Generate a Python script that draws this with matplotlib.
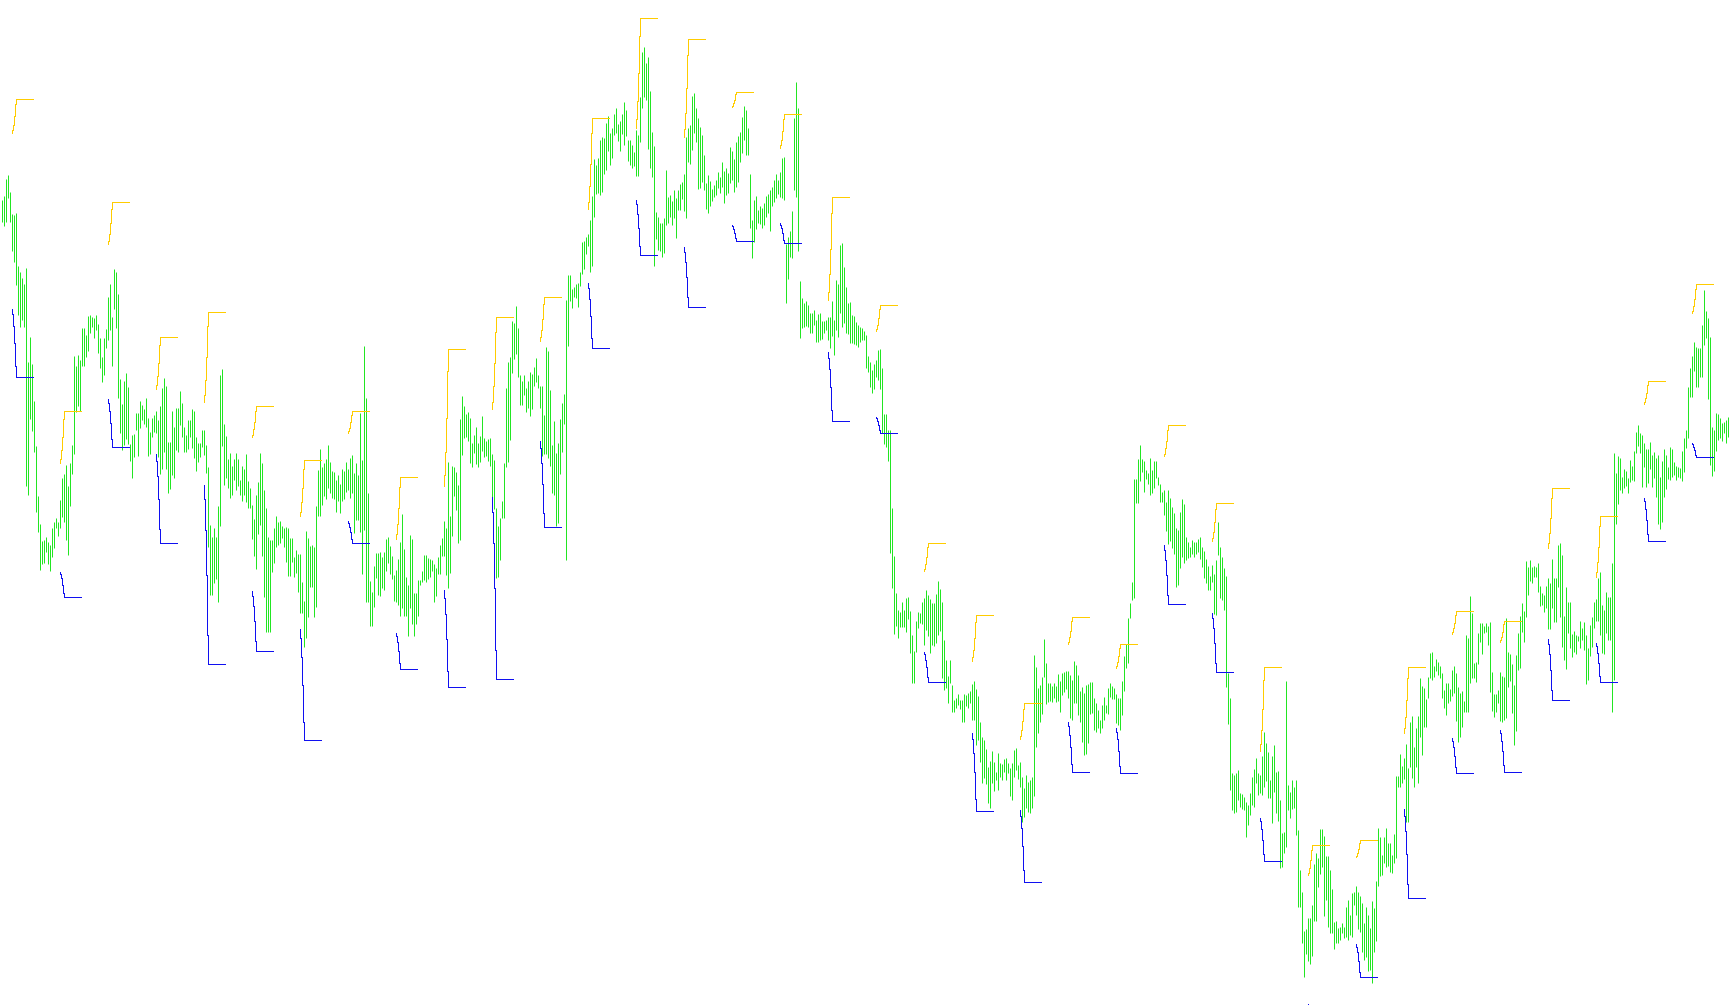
import matplotlib
matplotlib.use("Agg")
import matplotlib.pyplot as plt

# ---- bar data (high / low per bar) ----
high = [
805,809,826,830,813,791,790,792,739,733, 727,721,737,643,668,641,604,559,509,481,
464,465,468,463,460,477,483,487,483,505, 527,531,540,519,542,560,649,639,650,645,
677,677,670,689,690,688,687,690,681,667, 648,667,676,708,721,688,736,733,711,626,
601,624,632,618,561,570,571,592,592,604, 600,596,607,587,573,587,590,594,585,599,
617,627,619,563,563,594,578,597,597,614, 602,578,570,585,585,596,594,568,562,562,
575,575,560,538,480,468,477,468,
499,630,636,581,569,546,552,539,546,552, 546,525,539,536,551,524,517,500,486,510,
523,552,542,515,497,468,465,465,477,489, 483,484,479,477,478,477,467,467,448,455,
451,451,423,404,474,467,459,460,458,499, 535,556,538,542,546,560,543,534,533,525,
530,521,536,534,543,536,547,550,532,542, 530,592,545,659,607,512,424,413,439,452,
452,453,448,453,466,468,459,449,430,435, 446,463,491,456,428,420,470,466,412,412,
425,425,434,450,450,447,446,445,
441,437,448,460,467,484,477,543,489,539, 538,533,520,586,609,599,591,593,587,562,
570,578,562,569,589,567,564,566,567,551, 545,497,479,487,504,542,617,643,648,684,
682,699,677,630,624,630,617,624,633,631, 638,647,630,619,619,590,658,654,615,560,
584,552,562,586,602,611,705,730,730,716, 718,721,722,733,763,764,768,771,785,809,
846,840,847,865,868,867,882,889,872,877, 891,897,881,884,891,903,895,865,865,860,
853,875,870,908,953,958,942,948,
914,873,859,793,788,782,782,787,835,808, 810,804,815,807,815,821,823,831,868,877,
880,909,912,897,887,878,870,850,822,830, 824,816,820,825,833,828,843,834,837,832,
858,854,846,863,869,873,888,899,895,877, 831,785,805,809,795,799,797,802,809,811,
815,818,825,831,825,833,847,848,761,768, 774,794,887,923,897,724,707,702,704,700,
692,692,695,685,691,692,684,684,685,688, 688,704,685,725,721,760,762,738,718,702,
703,690,689,683,680,678,677,674,
670,649,643,635,641,645,655,656,637,591, 591,575,575,497,449,412,395,393,403,395,
407,408,394,370,354,384,393,392,403,407, 415,410,406,402,402,411,424,416,403,365,
345,329,345,320,305,307,311,305,305,311, 310,312,314,321,324,316,309,283,268,265,
256,238,244,254,243,233,252,242,241,246, 247,242,237,242,255,257,240,243,228,217,
230,223,225,228,350,338,317,320,328,366, 342,322,322,319,322,319,331,324,332,333,
334,334,330,325,344,340,330,314,
318,312,320,321,323,323,307,302,295,285, 300,308,300,317,322,319,317,311,307,307,
324,349,361,387,402,423,526,526,546,560, 546,544,535,532,547,535,544,544,528,521,
513,515,503,515,507,498,492,477,475,493, 506,501,468,463,458,465,463,463,466,468,
458,454,446,439,429,440,431,445,483,458, 448,437,429,332,307,232,230,232,235,212,
211,208,203,200,212,228,236,247,232,230, 249,273,262,253,225,249,260,233,234,205,
172,173,324,220,213,225,218,225,
175,135,113,74,76,87,87,100,141,152, 147,176,176,169,149,149,135,116,83,84,
77,78,82,78,98,105,90,112,113,119, 113,109,102,82,98,90,77,104,97,124,
177,168,150,168,177,162,162,150,171,229, 229,251,239,247,261,237,283,289,258,277,
289,327,319,317,306,328,352,353,339,346, 343,339,332,315,322,322,316,335,339,332,
318,312,314,304,370,367,409,392,342,343, 372,382,382,379,382,379,383,333,311,311,
315,333,329,328,387,353,351,341,
320,350,372,389,402,394,444,438,445,438, 439,438,442,419,412,410,419,427,422,446,
427,427,460,462,450,389,418,403,403,371, 374,370,369,384,377,383,370,357,380,388,
403,406,427,433,400,395,413,408,408,442, 552,532,549,547,528,536,534,527,545,539,
554,573,580,572,570,562,556,556,563,550, 553,547,550,528,544,556,550,538,558,556,
543,539,538,537,554,567,575,618,637,649, 663,658,657,657,680,715,694,687,668,578,
575,592,591,587,582,583,585,588,585,
]

low = [
783,779,783,807,783,754,743,720,690,678, 685,678,519,510,586,574,553,493,473,435,
441,442,453,441,434,448,457,477,469,477, 488,483,465,450,499,531,551,593,599,594,
639,639,648,654,672,678,667,675,652,637, 623,630,657,665,675,639,696,677,607,572,
555,560,566,561,544,527,548,575,549,577, 585,581,578,549,551,568,573,572,548,531,
536,553,536,512,516,530,527,555,553,580, 568,553,553,556,568,557,547,534,543,548,
558,550,532,458,410,410,422,426,
403,479,559,520,527,517,507,510,525,515, 519,510,504,510,503,497,497,466,449,436,
471,480,449,408,373,373,373,433,442,458, 460,462,467,458,443,429,429,443,428,432,
413,392,392,358,367,388,418,418,388,398, 489,489,500,509,506,517,512,507,506,493,
504,492,504,506,513,515,507,512,472,485, 485,473,431,475,403,403,379,379,398,427,
410,409,417,415,434,442,431,426,404,403, 400,389,397,389,389,369,397,381,369,381,
389,420,423,425,423,426,428,434,
403,409,431,431,449,449,430,417,432,469, 509,495,462,465,550,567,568,564,542,538,
552,541,538,543,554,548,549,544,539,508, 496,427,428,445,487,487,538,543,565,632,
646,651,628,600,600,610,593,597,589,596, 619,623,617,597,549,551,551,547,539,512,
510,479,482,531,553,581,445,659,704,697, 708,707,698,719,731,736,751,759,733,739,
788,811,812,810,813,831,835,854,840,847, 870,872,864,854,871,860,869,844,840,837,
839,829,829,863,897,908,905,856,
837,828,739,766,755,754,748,752,780,782, 788,780,787,767,795,795,806,794,787,843,
841,855,872,863,816,817,823,815,796,792, 799,804,808,810,817,812,818,802,810,812,
822,825,813,818,823,843,852,865,850,850, 777,747,763,776,782,781,777,780,788,792,
774,799,803,807,811,808,807,805,702,726, 748,747,815,808,754,667,677,678,679,678,
672,672,680,663,663,665,666,672,675,665, 657,669,650,675,668,692,678,682,672,671,
662,662,661,660,658,663,665,665,
637,633,618,612,616,628,625,616,572,561, 558,544,452,417,371,379,367,378,378,378,
373,386,352,322,322,353,377,382,381,360, 375,369,352,360,359,362,370,374,327,315,
317,302,322,293,293,297,300,296,283,283, 299,297,302,285,285,260,265,243,222,227,
221,202,197,222,214,225,215,228,225,233, 225,232,209,205,228,235,226,218,183,188,
197,193,192,197,209,258,272,283,291,328, 301,303,304,303,307,303,304,293,310,313,
316,307,287,285,302,302,290,283,
263,250,251,262,291,292,275,273,277,272, 277,285,292,291,308,306,306,282,280,275,
290,314,337,342,387,405,407,502,502,524, 533,513,526,521,510,512,517,527,520,503,
503,490,474,461,464,457,451,418,420,437, 448,442,445,447,448,451,448,451,453,446,
438,427,422,415,415,423,391,390,450,407, 405,395,318,281,215,195,192,193,205,198,
196,195,168,180,190,200,198,222,210,212, 210,218,224,207,207,182,213,192,184,137,
138,152,158,195,187,196,197,170,
98,98,62,28,51,44,41,49,84,84, 118,131,138,89,105,78,72,72,56,62,
62,65,72,67,68,65,70,68,100,90, 76,73,53,45,48,34,35,22,53,64,
119,129,130,142,138,139,133,132,142,147, 218,218,222,226,183,183,238,227,218,238,
222,268,250,278,278,307,327,325,328,334, 330,327,307,297,290,302,304,309,312,284,
263,268,278,293,293,293,322,327,327,323, 341,363,351,372,373,360,313,294,288,293,
302,284,283,285,287,318,324,292,
260,274,335,337,373,363,388,410,424,422, 428,428,413,399,400,393,397,376,376,397,
383,383,418,388,358,345,336,372,357,348, 353,351,364,357,365,355,321,325,349,358,
377,384,384,370,352,351,372,365,365,293, 325,481,501,515,512,517,519,512,523,525,
524,552,559,552,518,538,518,522,536,518, 527,508,481,476,483,508,516,526,525,528,
530,525,528,527,524,533,557,567,608,608, 634,618,618,628,628,660,667,606,540,529,
534,554,565,567,564,572,562,568,547,
]

# ---- session markers (one per 24-bar session, starting at bar 5) ----
session_len = 24
first_session_bar = 5
upper_start = [872, 542, 761, 616, 603, 568, 489, 572, 466, 519, 596, 664, 796, 877, 868, 898, 857, 705,
               674, 434, 344, 266, 361, 337, 549, 464, 254, 130, 148, 272, 371, 363, 457, 428, 601, 692]
upper_level = [906, 594, 803, 668, 693, 599, 545, 594, 528, 656, 688, 708, 887, 987, 966, 913, 891, 808,
               700, 462, 390, 302, 388, 361, 580, 502, 338, 160, 165, 338, 394, 384, 517, 489, 624, 721]
lower_start = [696, 433, 606, 551, 520, 414, 376, 484, 372, 415, 508, 564, 722, 805, 758, 780, 782, 653,
               588, 353, 272, 195, 283, 277, 460, 392, 187, 1, 61, 196, 267, 275, 366, 362, 507, 562]
lower_level = [628, 408, 558, 462, 341, 354, 265, 462, 336, 318, 326, 478, 657, 750, 698, 764, 762, 584,
               572, 323, 194, 123, 233, 232, 401, 333, 144, -60, 28, 107, 232, 233, 305, 323, 464, 548]

# marker shape (style): stepped approach then flat extension, in bar units
step_dx = [0, 0, 0.5, 0.5, 1, 1, 1.5, 1.5, 2, 2, 10.5]
step_fr = [0, 0.08, 0.08, 0.25, 0.25, 0.5, 0.5, 0.84, 0.84, 1.0, 1.0]

GREEN = "#22e622"
GOLD = "#ffcc00"
BLUE = "#1010f0"

W, H, DPI = 1730, 1005, 100
fig = plt.figure(figsize=(W / DPI, H / DPI), dpi=DPI, facecolor="white")
ax = fig.add_axes([0, 0, 1, 1])
ax.set_facecolor("white")
n = len(high)
ax.set_xlim(-0.75, n - 0.75)
ax.set_ylim(0, H)
ax.axis("off")

lw = 72.0 / DPI  # one pixel
xs = list(range(n))
ax.vlines(xs, low, high, colors=GREEN, linewidth=lw, antialiased=True)

for m in range(len(upper_start)):
    b = first_session_bar + m * session_len
    xx = [b + d for d in step_dx]
    yu = [upper_start[m] + f * (upper_level[m] - upper_start[m]) for f in step_fr]
    yl = [lower_start[m] + f * (lower_level[m] - lower_start[m]) for f in step_fr]
    ax.plot(xx, yu, color=GOLD, linewidth=lw, solid_joinstyle="miter", antialiased=False)
    ax.plot(xx, yl, color=BLUE, linewidth=lw, solid_joinstyle="miter", antialiased=False)

fig.savefig("out.png", dpi=DPI, facecolor="white")
